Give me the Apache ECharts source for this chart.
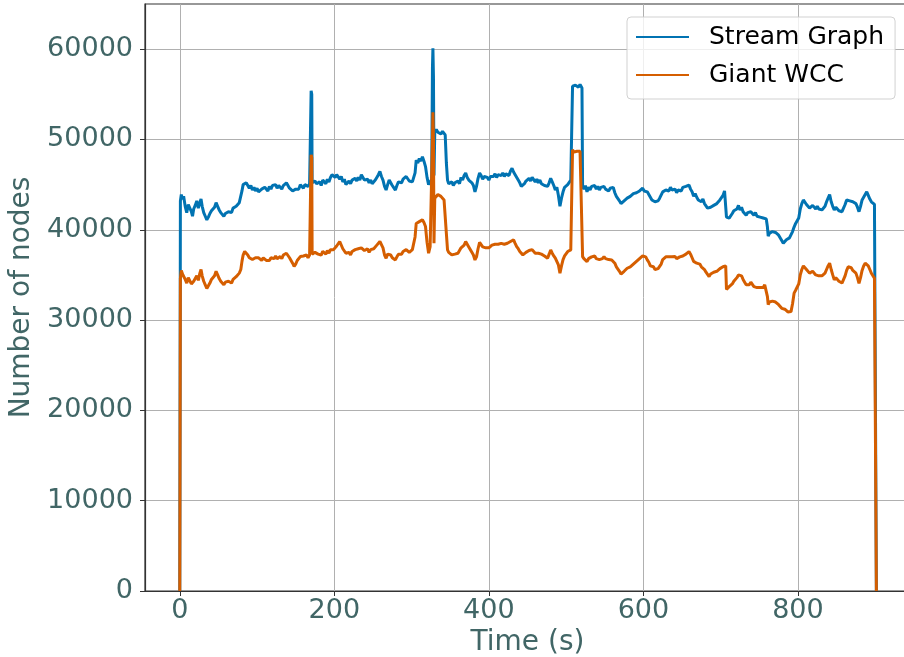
<!DOCTYPE html>
<html>
<head>
<meta charset="utf-8">
<script src="https://cdn.jsdelivr.net/npm/echarts@6/dist/echarts.min.js"></script>
<style>
  html, body { margin: 0; padding: 0; background: #fff; }
  #chartMain { width: 904px; height: 657px; }
</style>
</head>
<body>
<div id="chartMain"></div>
<script>
// time axis (s), shared by both series
var timeSec = [
  0, 0.8, 2, 3.5, 5, 7, 9, 11, 13, 15,
  16.5, 18, 20, 22, 24, 26, 27.5, 29, 31, 33,
  35, 37, 39, 41, 43, 45, 47, 49, 51, 53,
  55, 57, 59, 61, 63, 65, 67, 69, 71, 73,
  75, 77, 79, 80.5, 82, 84, 86, 88, 90, 92,
  94, 96, 98, 100, 102, 104, 106, 108, 110, 112,
  114, 116, 118, 120, 122, 124, 126, 128, 130, 132,
  134, 136, 138, 140, 142, 144, 146, 148, 150, 152,
  154, 156, 158, 160, 162, 164, 166, 168, 169.5, 170,
  170.8, 171.3, 173, 175, 177, 179, 181, 183, 185, 187,
  189, 191, 193, 195, 197, 199, 201, 203, 205, 207,
  209, 211, 213, 215, 217, 219, 221, 223, 225, 227,
  229, 231, 233, 235, 237, 239, 241, 243, 245, 247,
  249, 251, 253, 255, 257, 259, 261, 263, 265, 267,
  269, 271, 273, 275, 277, 279, 281, 283, 285, 287,
  289, 291, 293, 295, 297, 299, 301, 303, 304.5, 306,
  308, 310, 312, 314, 316, 318, 320, 322, 324, 326,
  327, 327.6, 328.3, 329, 330, 332, 334, 336, 338, 340,
  342, 343.5, 345, 346.5, 348, 350, 352, 354, 356, 358,
  360, 362, 364, 366, 368, 370, 372, 374, 376, 378,
  380, 382, 384, 386, 388, 390, 392, 394, 396, 398,
  400, 402, 404, 406, 408, 410, 412, 414, 416, 418,
  420, 422, 424, 426, 428, 430, 432, 434, 436, 438,
  440, 442, 444, 446, 448, 450, 452, 454, 456, 458,
  460, 462, 464, 466, 468, 470, 472, 474, 476, 478,
  480, 482, 484, 486, 488, 490, 492, 494, 496, 498,
  500, 502, 504, 506, 507.8, 508.3, 510, 512, 514, 516,
  518, 520.5, 521.3, 523, 525, 527, 529, 531, 533, 535,
  537, 539, 541, 543, 545, 547, 549, 551, 553, 555,
  557, 559, 561, 563, 565, 567, 569, 571, 573, 575,
  577, 579, 581, 583, 585, 587, 589, 591, 593, 595,
  597, 599, 601, 603, 605, 607, 609, 611, 613, 615,
  617, 619, 621, 623, 625, 627, 629, 631, 633, 635,
  637, 639, 641, 643, 645, 647, 649, 651, 653, 655,
  657, 659, 661, 663, 665, 667, 669, 671, 673, 675,
  677, 679, 681, 683, 685, 687, 689, 691, 693, 695,
  697, 699, 701, 703, 705, 706.5, 707.5, 709, 711, 713,
  715, 717, 719, 721, 723, 725, 727, 729, 731, 733,
  735, 737, 739, 741, 743, 745, 747, 749, 751, 753,
  755, 757, 759, 760.5, 761.5, 763, 765, 767, 769, 771,
  773, 775, 777, 779, 781, 783, 785, 787, 789, 791,
  793, 795, 797, 799, 801, 803, 805, 807, 809, 811,
  813, 815, 817, 819, 821, 823, 825, 827, 829, 831,
  833, 835, 837, 839, 841, 843, 845, 847, 849, 851,
  853, 855, 857, 859, 861, 863, 865, 867, 869, 871,
  873, 875, 877, 879, 881, 883, 885, 887, 889, 891,
  893, 895, 897, 899, 900.8, 901.5
];

// Stream Graph - number of nodes
var streamNodes = [
  0, 43200, 43900, 43400, 43700, 42600, 41900, 42800, 43000, 42000,
  41500, 42300, 42700, 43200, 42400, 43000, 43400, 42600, 41900, 41500,
  41100, 41400, 41800, 42100, 41900, 42500, 43000, 42600, 42200, 41900,
  41700, 41500, 41800, 41600, 42000, 42200, 41900, 42400, 42300, 42600,
  42500, 43000, 43200, 44300, 45000, 44800, 45200, 44900, 44600, 44900,
  44400, 44700, 44300, 44600, 44200, 44050, 44500, 44300, 44700, 44600,
  44300, 44800, 44500, 44900, 44700, 45000, 44600, 44900, 44800, 44500,
  44900, 44700, 45200, 44900, 44600, 44800, 44300, 44100, 44500, 44700,
  44500, 45000, 44800, 44600, 45000, 45200, 44800, 45100, 45300, 55400,
  55000, 45200, 45000, 45400, 45100, 45000, 45300, 44900, 45500, 45400,
  45100, 45600, 45300, 45800, 46100, 46300, 45800, 46100, 45900, 45600,
  45900, 45300, 45600, 45000, 45100, 45400, 45100, 45500, 45300, 45700,
  45400, 45800, 45500, 46100, 45800, 45500, 45300, 45600, 45200, 45500,
  45100, 45300, 45500, 45800, 46100, 46450, 45900, 45500, 44800, 44400,
  45000, 45500, 45300, 44900, 44700, 44400, 44900, 45300, 45500, 45200,
  45600, 45500, 45900, 45700, 45400, 45600, 45300, 45100, 46300, 47700,
  47400, 47900, 47600, 48100, 47600, 47000, 45800, 45000, 45300, 45600,
  58000, 60100, 57000, 46000, 50800, 51100, 50800, 51000, 50600, 50900,
  50700, 50500, 47400, 45500, 45100, 44900, 45300, 44900, 45200, 45000,
  45400, 45100, 45800, 45500, 46000, 46300, 45800, 45500, 45600, 45200,
  44900, 44200, 44800, 45700, 46300, 46000, 45600, 45900, 45700, 45800,
  45500, 45900, 46100, 45900, 46200, 45800, 46100, 46300, 46000, 46300,
  45900, 46200, 46300, 46000, 46500, 46800, 46400, 46100, 45900, 45500,
  45200, 44800, 44600, 45100, 45400, 45300, 45700, 45400, 45800, 45700,
  45300, 45600, 45200, 45500, 45100, 45300, 44900, 45100, 44800, 45200,
  45700, 45300, 44900, 44400, 44700, 43800, 42600, 43500, 44200, 44700,
  44500, 45000, 45200, 45500, 45600, 55900, 55700, 56000, 56200, 55800,
  56100, 55700, 44800, 44500, 44900, 44200, 44700, 44400, 44800, 44600,
  44900, 44500, 44800, 44400, 44700, 44500, 44800, 44500, 44700, 44300,
  44600, 44400, 44700, 44100, 43700, 43500, 43200, 42900, 42800, 43200,
  43000, 43500, 43300, 43700, 43500, 44000, 43800, 44100, 43900, 44300,
  44100, 44600, 44300, 44500, 44200, 44000, 43600, 43300, 43500, 43100,
  42900, 43200, 43500, 43700, 44200, 44000, 44400, 44600, 44300, 44700,
  44400, 44200, 44500, 44100, 44400, 44600, 44300, 44700, 44500, 44800,
  44600, 44950, 44500, 44200, 43700, 44000, 43600, 43300, 43500, 43100,
  43400, 42900, 42700, 42400, 42200, 42500, 42300, 42700, 42600, 42900,
  43100, 43300, 43500, 43800, 44300, 44100, 41400, 41600, 41300, 41500,
  41800, 42100, 41900, 42300, 42700, 42200, 42500, 42000, 41800, 41600,
  41900, 41700, 42000, 41800, 41600, 41900, 41500, 41700, 41400, 41600,
  41300, 41400, 41200, 40300, 39300, 39600, 39400, 39800, 40000, 39700,
  39500, 39400, 39200, 38800, 38500, 38600, 38900, 38700, 39100, 39300,
  39800, 40300, 40700, 41000, 41300, 42300, 42900, 43300, 43500, 42800,
  42600, 42400, 42400, 42700, 42500, 42300, 42600, 42300, 42500, 42200,
  42400, 42600, 43100, 43500, 43900, 43100, 42600, 42200, 42500, 42300,
  42100, 42300, 42000, 42200, 42800, 43300, 43500, 43200, 43400, 43100,
  43300, 42900, 42500, 42000, 42600, 43300, 43600, 43900, 44200, 43800,
  43400, 43100, 43000, 42800, 42600, 0
];

// Giant WCC - number of nodes
var wccNodes = [
  0, 34600, 35500, 35100, 35300, 34500, 34100, 34700, 34500, 34000,
  33900, 34300, 34600, 34900, 34400, 35200, 35600, 34900, 34300, 33900,
  33500, 33700, 34100, 34500, 34300, 34900, 35400, 35000, 34600, 34300,
  34100, 33900, 34200, 34000, 34300, 34300, 34100, 34500, 34400, 34800,
  34700, 35200, 35600, 36500, 37200, 37600, 37700, 37200, 36900, 37100,
  36700, 36600, 36900, 36700, 36900, 36800, 36600, 36900, 36700, 36600,
  36800, 36600, 36900, 37000, 36800, 37100, 36800, 37000, 37030, 36800,
  37200, 37000, 37400, 37300, 36900, 36600, 36300, 35950, 36200, 36600,
  36800, 37030, 36900, 37100, 37300, 37200, 36900, 37200, 37300, 48300,
  48000, 37300, 37100, 37500, 37400, 37300, 37500, 37200, 37600, 37500,
  37300, 37700, 37400, 37800, 37700, 37800, 37600, 38200, 38400, 38700,
  38500, 37900, 37700, 37400, 37300, 37500, 37220, 37600, 37500, 37800,
  37600, 37900, 38100, 38000, 37800, 37700, 37600, 37900, 37500, 37800,
  37770, 37900, 38100, 38300, 38500, 38700, 38600, 38000, 37200, 36850,
  37300, 37500, 37200, 36900, 36700, 36660, 37000, 37300, 37200, 37300,
  37600, 37500, 37800, 37700, 37500, 37700, 37800, 37770, 39200, 40700,
  40600, 40900, 40700, 41100, 40800, 40360, 38600, 37400, 38140, 38300,
  50000, 53000, 50000, 38500, 43500, 43700, 43900, 43800, 43700, 43600,
  43300, 43200, 39600, 37770, 37500, 37300, 37220, 37000, 37300, 37200,
  37400, 37500, 38000, 37800, 38300, 38700, 38880, 38100, 37900, 37500,
  37200, 36660, 37000, 37900, 38600, 38500, 38100, 38200, 38000, 37960,
  38000, 38140, 38300, 38140, 38400, 38200, 38400, 38600, 38500, 38700,
  38400, 38600, 38510, 38400, 38700, 38900, 38880, 38500, 38140, 37900,
  37600, 37400, 37220, 37400, 37500, 37400, 37700, 37590, 37800, 37600,
  37400, 37600, 37400, 37500, 37300, 37400, 37100, 37000, 36850, 37300,
  37770, 37400, 37100, 36850, 36800, 36100, 35190, 36000, 36700, 37100,
  37300, 37590, 37600, 37770, 37900, 48850, 48600, 48800, 48700, 48500,
  48700, 48600, 37030, 36800, 37000, 36480, 36800, 36600, 37000, 36850,
  37100, 36800, 37000, 36700, 36900, 36800, 37030, 36800, 37000, 36700,
  36900, 36660, 36800, 36300, 35900, 35700, 35400, 35100, 35000, 35400,
  35300, 35740, 35600, 35900, 35800, 36200, 36300, 36500, 36400, 36800,
  36700, 37100, 37220, 37000, 36660, 36400, 36000, 35800, 35900, 35600,
  35500, 35700, 35900, 36200, 36700, 36600, 37000, 37220, 37000, 37200,
  37000, 36900, 37030, 36800, 36900, 37000, 36850, 37100, 37000, 37300,
  37200, 37590, 37300, 36900, 36500, 36600, 36300, 36100, 36200, 35900,
  36000, 35600, 35300, 35100, 34820, 35100, 35000, 35300, 35200, 35400,
  35500, 35700, 35800, 35900, 36100, 36000, 33400, 33500, 33700, 33900,
  34000, 34300, 34500, 34700, 35000, 34800, 34900, 34500, 34200, 33900,
  34100, 33900, 34200, 34000, 33700, 33900, 33600, 33800, 33600, 33800,
  33600, 33900, 33700, 32600, 31700, 32000, 31800, 32100, 32240, 32000,
  31900, 31700, 31600, 31300, 31100, 31200, 31100, 30900, 31000, 30940,
  31800, 32980, 33300, 33500, 34000, 35000, 35600, 36000, 36110, 35600,
  35400, 35200, 35190, 35400, 35200, 35000, 35100, 34900, 35100, 34900,
  35000, 35200, 35600, 36000, 36300, 35600, 35000, 34450, 34700, 34500,
  34300, 34400, 34100, 34300, 34900, 35500, 35900, 35700, 35800, 35500,
  35560, 35200, 34700, 34080, 34700, 35500, 36000, 36300, 36300, 36000,
  35600, 35190, 35000, 34630, 34500, 0
];

var xTickValues = [0, 200, 400, 600, 800];
var yTickValues = [0, 10000, 20000, 30000, 40000, 50000, 60000];

var labelColor = '#416666';
var spineColor = '#333333';
var fontName = 'DejaVu Sans';

function pairUp(xs, ys) {
  var out = [];
  for (var i = 0; i < xs.length; i++) {
    out.push([xs[i], ys[i]]);
  }
  return out;
}

var myChart = echarts.init(document.getElementById('chartMain'), null, { renderer: 'canvas' });

var option = {
  animation: false,
  backgroundColor: '#ffffff',
  grid: {
    left: 145, right: -6, top: 4, bottom: 66,
    outerBoundsMode: 'none',
    containLabel: false,
    show: true,
    borderColor: spineColor,
    borderWidth: 1.2,
    backgroundColor: 'transparent'
  },
  legend: {
    orient: 'vertical',
    left: 627, top: 17,
    padding: [5, 11, 9, 9],
    backgroundColor: 'rgba(255,255,255,0.8)',
    borderColor: 'rgba(204,204,204,0.9)',
    borderWidth: 1,
    borderRadius: 4,
    itemWidth: 53,
    itemHeight: 2,
    itemGap: 8,
    icon: 'rect',
    textStyle: {
      fontFamily: fontName,
      fontSize: 25,
      color: '#000',
      lineHeight: 30,
      padding: [0, 0, 0, 15]
    },
    data: ['Stream Graph', 'Giant WCC']
  },
  xAxis: {
    type: 'value',
    min: -45, max: 945,
    name: 'Time (s)',
    nameLocation: 'middle',
    nameGap: 33,
    nameTextStyle: { fontFamily: fontName, fontSize: 28, color: labelColor },
    axisLine: { show: true, onZero: false, lineStyle: { color: spineColor, width: 1.2 } },
    axisTick: { show: true, length: 5, customValues: xTickValues, lineStyle: { color: spineColor } },
    axisLabel: {
      customValues: xTickValues,
      margin: 6,
      fontFamily: fontName, fontSize: 27, color: labelColor,
      formatter: function(v) { return String(v); }
    },
    splitLine: { show: true, lineStyle: { color: '#b0b0b0', width: 1 } }
  },
  yAxis: {
    type: 'value',
    min: 0, max: 65000,
    name: 'Number of nodes',
    nameLocation: 'middle',
    nameRotate: 90,
    nameGap: 109,
    nameTextStyle: { fontFamily: fontName, fontSize: 28, color: labelColor },
    axisLine: { show: true, onZero: false, lineStyle: { color: spineColor, width: 1.2 } },
    axisTick: { show: true, length: 5, customValues: yTickValues, lineStyle: { color: spineColor } },
    axisLabel: {
      customValues: yTickValues,
      margin: 12,
      fontFamily: fontName, fontSize: 27, color: labelColor,
      formatter: function(v) { return String(v); }
    },
    splitLine: { show: true, lineStyle: { color: '#b0b0b0', width: 1 } }
  },
  series: [
    {
      name: 'Stream Graph',
      type: 'line',
      data: pairUp(timeSec, streamNodes),
      showSymbol: false,
      symbol: 'none',
      color: '#0173B2',
      lineStyle: { width: 3, color: '#0173B2' },
      emphasis: { disabled: true }
    },
    {
      name: 'Giant WCC',
      type: 'line',
      data: pairUp(timeSec, wccNodes),
      showSymbol: false,
      symbol: 'none',
      color: '#D55E00',
      lineStyle: { width: 3, color: '#D55E00' },
      emphasis: { disabled: true }
    }
  ]
};

myChart.setOption(option);
</script>
</body>
</html>
